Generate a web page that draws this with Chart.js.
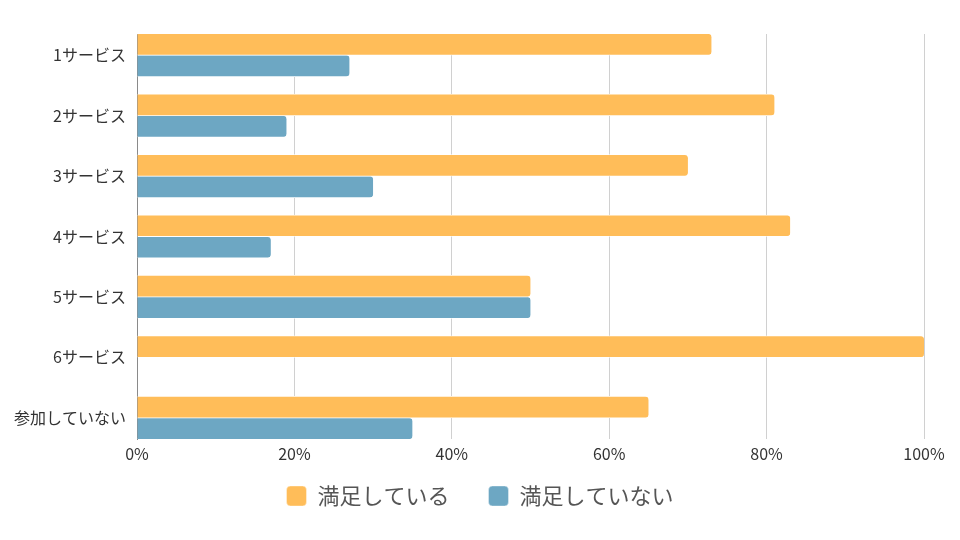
<!DOCTYPE html>
<html>
<head>
<meta charset="utf-8">
<script src="https://cdn.jsdelivr.net/npm/chart.js@4/dist/chart.umd.min.js"></script>
<style>
  html, body { margin: 0; padding: 0; background: #fff; }
  #wrap { width: 960px; height: 540px; }
</style>
</head>
<body>
<div id="wrap"><canvas id="c" width="960" height="540"></canvas></div>
<script>
const categories = ["1サービス", "2サービス", "3サービス", "4サービス", "5サービス", "6サービス", "参加していない"];
const satisfied = [73, 81, 70, 83, 50, 100, 65];
const notSatisfied = [27, 19, 30, 17, 50, 0, 35];
const seriesNames = ["満足している", "満足していない"];
const xTicks = [0, 20, 40, 60, 80, 100];

const FONT = "'Noto Sans CJK JP', 'Noto Sans', sans-serif";
const toPoints = arr => arr.map((v, i) => ({ x: v, y: i }));

const barStyle = {
  barThickness: 21.5,
  borderRadius: 4,
  borderSkipped: 'start',
  borderColor: '#ffffff',
  borderWidth: { top: 0.75, bottom: 0.75, left: 0, right: 0 }
};

// place the legend where the reference has it (centred on the full canvas)
const legendShift = {
  id: 'legendShift',
  afterLayout(chart) {
    const lg = chart.legend;
    if (lg) {
      lg.top -= 23;
      lg.bottom -= 23;
      lg.right += 36;
      lg.width += 36;
    }
  }
};

new Chart(document.getElementById('c'), {
  type: 'bar',
  data: {
    datasets: [
      Object.assign({ label: seriesNames[0], data: toPoints(satisfied), backgroundColor: '#FFBD59' }, barStyle),
      Object.assign({ label: seriesNames[1], data: toPoints(notSatisfied), backgroundColor: '#6DA7C3' }, barStyle)
    ]
  },
  plugins: [legendShift],
  options: {
    indexAxis: 'y',
    responsive: false,
    animation: false,
    layout: { padding: { top: 34, right: 36, left: 0, bottom: 0 } },
    scales: {
      x: {
        type: 'linear',
        min: 0, max: 100,
        afterBuildTicks: s => { s.ticks = xTicks.map(v => ({ value: v })); },
        afterFit: s => { s.height = 30; },
        grid: {
          drawTicks: false,
          color: ctx => (ctx.tick && ctx.tick.value === 0) ? '#8a8a8a' : '#d0d0d0',
          lineWidth: 1
        },
        border: { display: false },
        ticks: {
          padding: 5,
          color: '#333',
          font: { family: FONT, size: 16 },
          callback: v => v + '%'
        }
      },
      y: {
        type: 'linear',
        reverse: true,
        offset: false,
        min: -0.35, max: 6.35,
        afterBuildTicks: s => { s.ticks = categories.map((c, i) => ({ value: i })); },
        afterFit: s => { s.width = 137; },
        grid: { display: false, drawTicks: false },
        border: { display: true, color: '#8a8a8a', width: 1 },
        ticks: {
          padding: 11,
          color: '#333',
          autoSkip: false,
          font: { family: FONT, size: 16 },
          callback: v => categories[v]
        }
      }
    },
    plugins: {
      tooltip: { enabled: false },
      legend: {
        position: 'bottom',
        labels: {
          boxWidth: 20,
          boxHeight: 20,
          useBorderRadius: true,
          borderRadius: 4,
          padding: 39,
          color: '#555',
          font: { family: FONT, size: 22 }
        }
      }
    }
  }
});
</script>
</body>
</html>
